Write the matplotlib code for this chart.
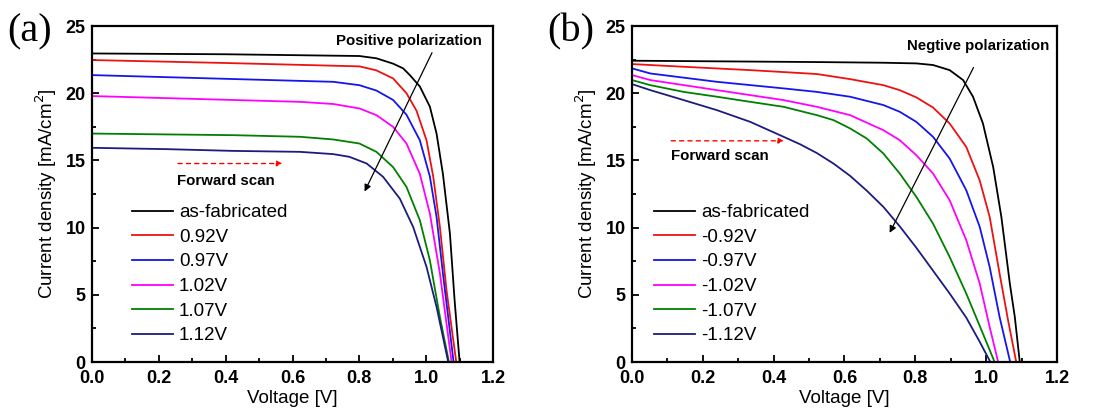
import matplotlib
matplotlib.use("Agg")
import matplotlib.pyplot as plt
from matplotlib.ticker import MultipleLocator

plt.rcParams['font.family'] = ['Liberation Sans', 'DejaVu Sans']

# ---- panel (a): positive polarization, J-V curves ----
a_labels = ['as-fabricated', '0.92V', '0.97V', '1.02V', '1.07V', '1.12V']

a_black_v = [0.0, 0.4, 0.80, 0.851, 0.901, 0.931, 0.951, 0.981, 1.011, 1.031, 1.05, 1.071, 1.085, 1.10]
a_black_j = [22.96, 22.9, 22.77, 22.6, 22.2, 21.85, 21.35, 20.5, 19.0, 17.0, 14.0, 9.56, 4.6, 0.0]

a_red_v = [0.0, 0.4, 0.80, 0.851, 0.901, 0.941, 0.971, 1.001, 1.021, 1.041, 1.061, 1.09]
a_red_j = [22.47, 22.25, 22.0, 21.7, 21.1, 20.0, 18.7, 16.5, 13.8, 10.05, 5.3, 0.0]

a_blue_v = [0.0, 0.722, 0.80, 0.851, 0.901, 0.941, 0.981, 1.011, 1.031, 1.05, 1.082]
a_blue_j = [21.35, 20.85, 20.6, 20.2, 19.5, 18.4, 16.5, 13.8, 10.8, 6.6, 0.0]

a_mag_v = [0.0, 0.622, 0.722, 0.80, 0.851, 0.901, 0.941, 0.981, 1.011, 1.041, 1.076]
a_mag_j = [19.79, 19.36, 19.2, 18.87, 18.37, 17.5, 16.26, 14.0, 11.05, 6.6, 0.0]

a_green_v = [0.0, 0.423, 0.622, 0.722, 0.80, 0.851, 0.901, 0.941, 0.981, 1.011, 1.041, 1.068]
a_green_j = [17.0, 16.88, 16.76, 16.56, 16.26, 15.64, 14.5, 13.03, 10.55, 7.57, 3.35, 0.0]

a_navy_v = [0.0, 0.224, 0.423, 0.622, 0.722, 0.77, 0.822, 0.871, 0.921, 0.961, 1.001, 1.031, 1.066]
a_navy_j = [15.94, 15.84, 15.71, 15.64, 15.47, 15.27, 14.77, 13.78, 12.16, 10.05, 7.08, 4.1, 0.0]

# ---- panel (b): negative polarization ----
b_labels = ['as-fabricated', '-0.92V', '-0.97V', '-1.02V', '-1.07V', '-1.12V']

b_black_v = [0.0, 0.522, 0.71, 0.803, 0.85, 0.897, 0.935, 0.963, 0.991, 1.02, 1.043, 1.067, 1.081, 1.095]
b_black_j = [22.42, 22.32, 22.27, 22.22, 22.1, 21.72, 20.98, 19.74, 17.75, 14.5, 10.8, 5.83, 3.35, 0.0]

b_red_v = [0.0, 0.146, 0.334, 0.522, 0.616, 0.71, 0.756, 0.803, 0.85, 0.897, 0.944, 0.982, 1.01, 1.038, 1.062, 1.085]
b_red_j = [22.17, 21.97, 21.72, 21.43, 21.05, 20.6, 20.23, 19.69, 18.94, 17.75, 16.0, 13.5, 10.8, 6.58, 3.1, 0.0]

b_blue_v = [0.0, 0.052, 0.24, 0.428, 0.522, 0.616, 0.71, 0.756, 0.803, 0.85, 0.897, 0.944, 0.982, 1.01, 1.038, 1.068]
b_blue_j = [21.85, 21.47, 20.85, 20.36, 20.1, 19.74, 19.12, 18.62, 17.87, 16.76, 15.14, 12.78, 10.05, 7.07, 3.35, 0.0]

b_mag_v = [0.0, 0.052, 0.24, 0.428, 0.522, 0.616, 0.71, 0.756, 0.803, 0.85, 0.897, 0.944, 0.982, 1.01, 1.034]
b_mag_j = [21.35, 20.98, 20.23, 19.49, 18.99, 18.37, 17.25, 16.51, 15.39, 14.03, 12.04, 9.06, 5.83, 2.6, 0.0]

b_green_v = [0.0, 0.052, 0.146, 0.24, 0.334, 0.428, 0.522, 0.569, 0.616, 0.663, 0.71, 0.756, 0.803, 0.85, 0.897, 0.944, 0.991, 1.024]
b_green_j = [20.98, 20.6, 20.1, 19.74, 19.36, 18.99, 18.37, 18.0, 17.38, 16.63, 15.51, 14.03, 12.29, 10.3, 7.82, 5.09, 2.11, 0.0]

b_navy_v = [0.0, 0.052, 0.146, 0.24, 0.334, 0.428, 0.475, 0.522, 0.57, 0.616, 0.663, 0.71, 0.756, 0.803, 0.85, 0.897, 0.944, 0.982, 1.012]
b_navy_j = [20.68, 20.23, 19.49, 18.74, 17.87, 16.76, 16.2, 15.55, 14.75, 13.85, 12.75, 11.54, 10.1, 8.5, 6.8, 5.1, 3.3, 1.5, 0.0]

colours = ['black', '#ee1111', '#1515ee', '#ff00ff', '#008000', '#1c1c80']


def style_axes(ax):
    ax.set_xlim(0, 1.2)
    ax.set_ylim(0, 25)
    ax.xaxis.set_major_locator(MultipleLocator(0.2))
    ax.xaxis.set_minor_locator(MultipleLocator(0.1))
    ax.yaxis.set_major_locator(MultipleLocator(5))
    ax.yaxis.set_minor_locator(MultipleLocator(2.5))
    ax.tick_params(which='both', direction='in', top=False, right=False, width=1.3)
    ax.tick_params(which='major', length=5, labelsize=13)
    ax.tick_params(axis='x', which='major', pad=6)
    ax.tick_params(axis='y', which='major', pad=4.5)
    ax.tick_params(which='minor', length=3)
    for lab in ax.get_xticklabels() + ax.get_yticklabels():
        lab.set_fontweight('bold')
    for s in ax.spines.values():
        s.set_linewidth(1.6)
    ax.set_xlabel('Voltage [V]', fontsize=13.5, labelpad=2)
    ax.set_ylabel('Current density [mA/cm$^2$]', fontsize=13.5, labelpad=5)


fig = plt.figure(figsize=(11.01, 4.2), dpi=100)
axa = fig.add_axes([0.0836, 0.138, 0.3642, 0.8])
axb = fig.add_axes([0.574, 0.138, 0.386, 0.8])

a_curves = [(a_black_v, a_black_j), (a_red_v, a_red_j), (a_blue_v, a_blue_j),
            (a_mag_v, a_mag_j), (a_green_v, a_green_j), (a_navy_v, a_navy_j)]
b_curves = [(b_black_v, b_black_j), (b_red_v, b_red_j), (b_blue_v, b_blue_j),
            (b_mag_v, b_mag_j), (b_green_v, b_green_j), (b_navy_v, b_navy_j)]

for (v, j), c, lab in zip(a_curves, colours, a_labels):
    axa.plot(v, j, color=c, lw=1.3, label=lab)
for (v, j), c, lab in zip(b_curves, colours, b_labels):
    axb.plot(v, j, color=c, lw=1.3, label=lab)

for ax in (axa, axb):
    style_axes(ax)

leg_kw = dict(frameon=False, fontsize=13.5, handlelength=2.2, handletextpad=0.3,
              labelspacing=0.4, borderpad=0, borderaxespad=0, loc='upper left')
axa.legend(bbox_to_anchor=(0.10, 0.47), **leg_kw)
axb.legend(bbox_to_anchor=(0.052, 0.47), **leg_kw)

# annotations, panel (a)
axa.text(0.948, 23.9, 'Positive polarization', fontsize=10.8, fontweight='bold',
         ha='center', va='center')
axa.annotate('', xy=(0.812, 12.5), xytext=(1.021, 23.2),
             arrowprops=dict(arrowstyle='-|>', color='black', lw=0.9, mutation_scale=10))
axa.annotate('', xy=(0.578, 14.77), xytext=(0.249, 14.77),
             arrowprops=dict(arrowstyle='-|>', color='red', lw=1, ls=(0, (3, 3)),
                             mutation_scale=8))
axa.text(0.40, 13.5, 'Forward scan', fontsize=10.8, fontweight='bold',
         ha='center', va='center')

# annotations, panel (b)
axb.text(0.978, 23.5, 'Negtive polarization', fontsize=10.8, fontweight='bold',
         ha='center', va='center')
axb.annotate('', xy=(0.724, 9.43), xytext=(0.968, 22.1),
             arrowprops=dict(arrowstyle='-|>', color='black', lw=0.9, mutation_scale=10))
axb.annotate('', xy=(0.437, 16.46), xytext=(0.103, 16.46),
             arrowprops=dict(arrowstyle='-|>', color='red', lw=1, ls=(0, (3, 3)),
                             mutation_scale=8))
axb.text(0.249, 15.3, 'Forward scan', fontsize=10.8, fontweight='bold',
         ha='center', va='center')

fig.text(0.007, 0.925, '(a)', fontsize=29, family='Liberation Serif', va='center')
fig.text(0.497, 0.925, '(b)', fontsize=29, family='Liberation Serif', va='center')

fig.savefig('out.png', dpi=100)
